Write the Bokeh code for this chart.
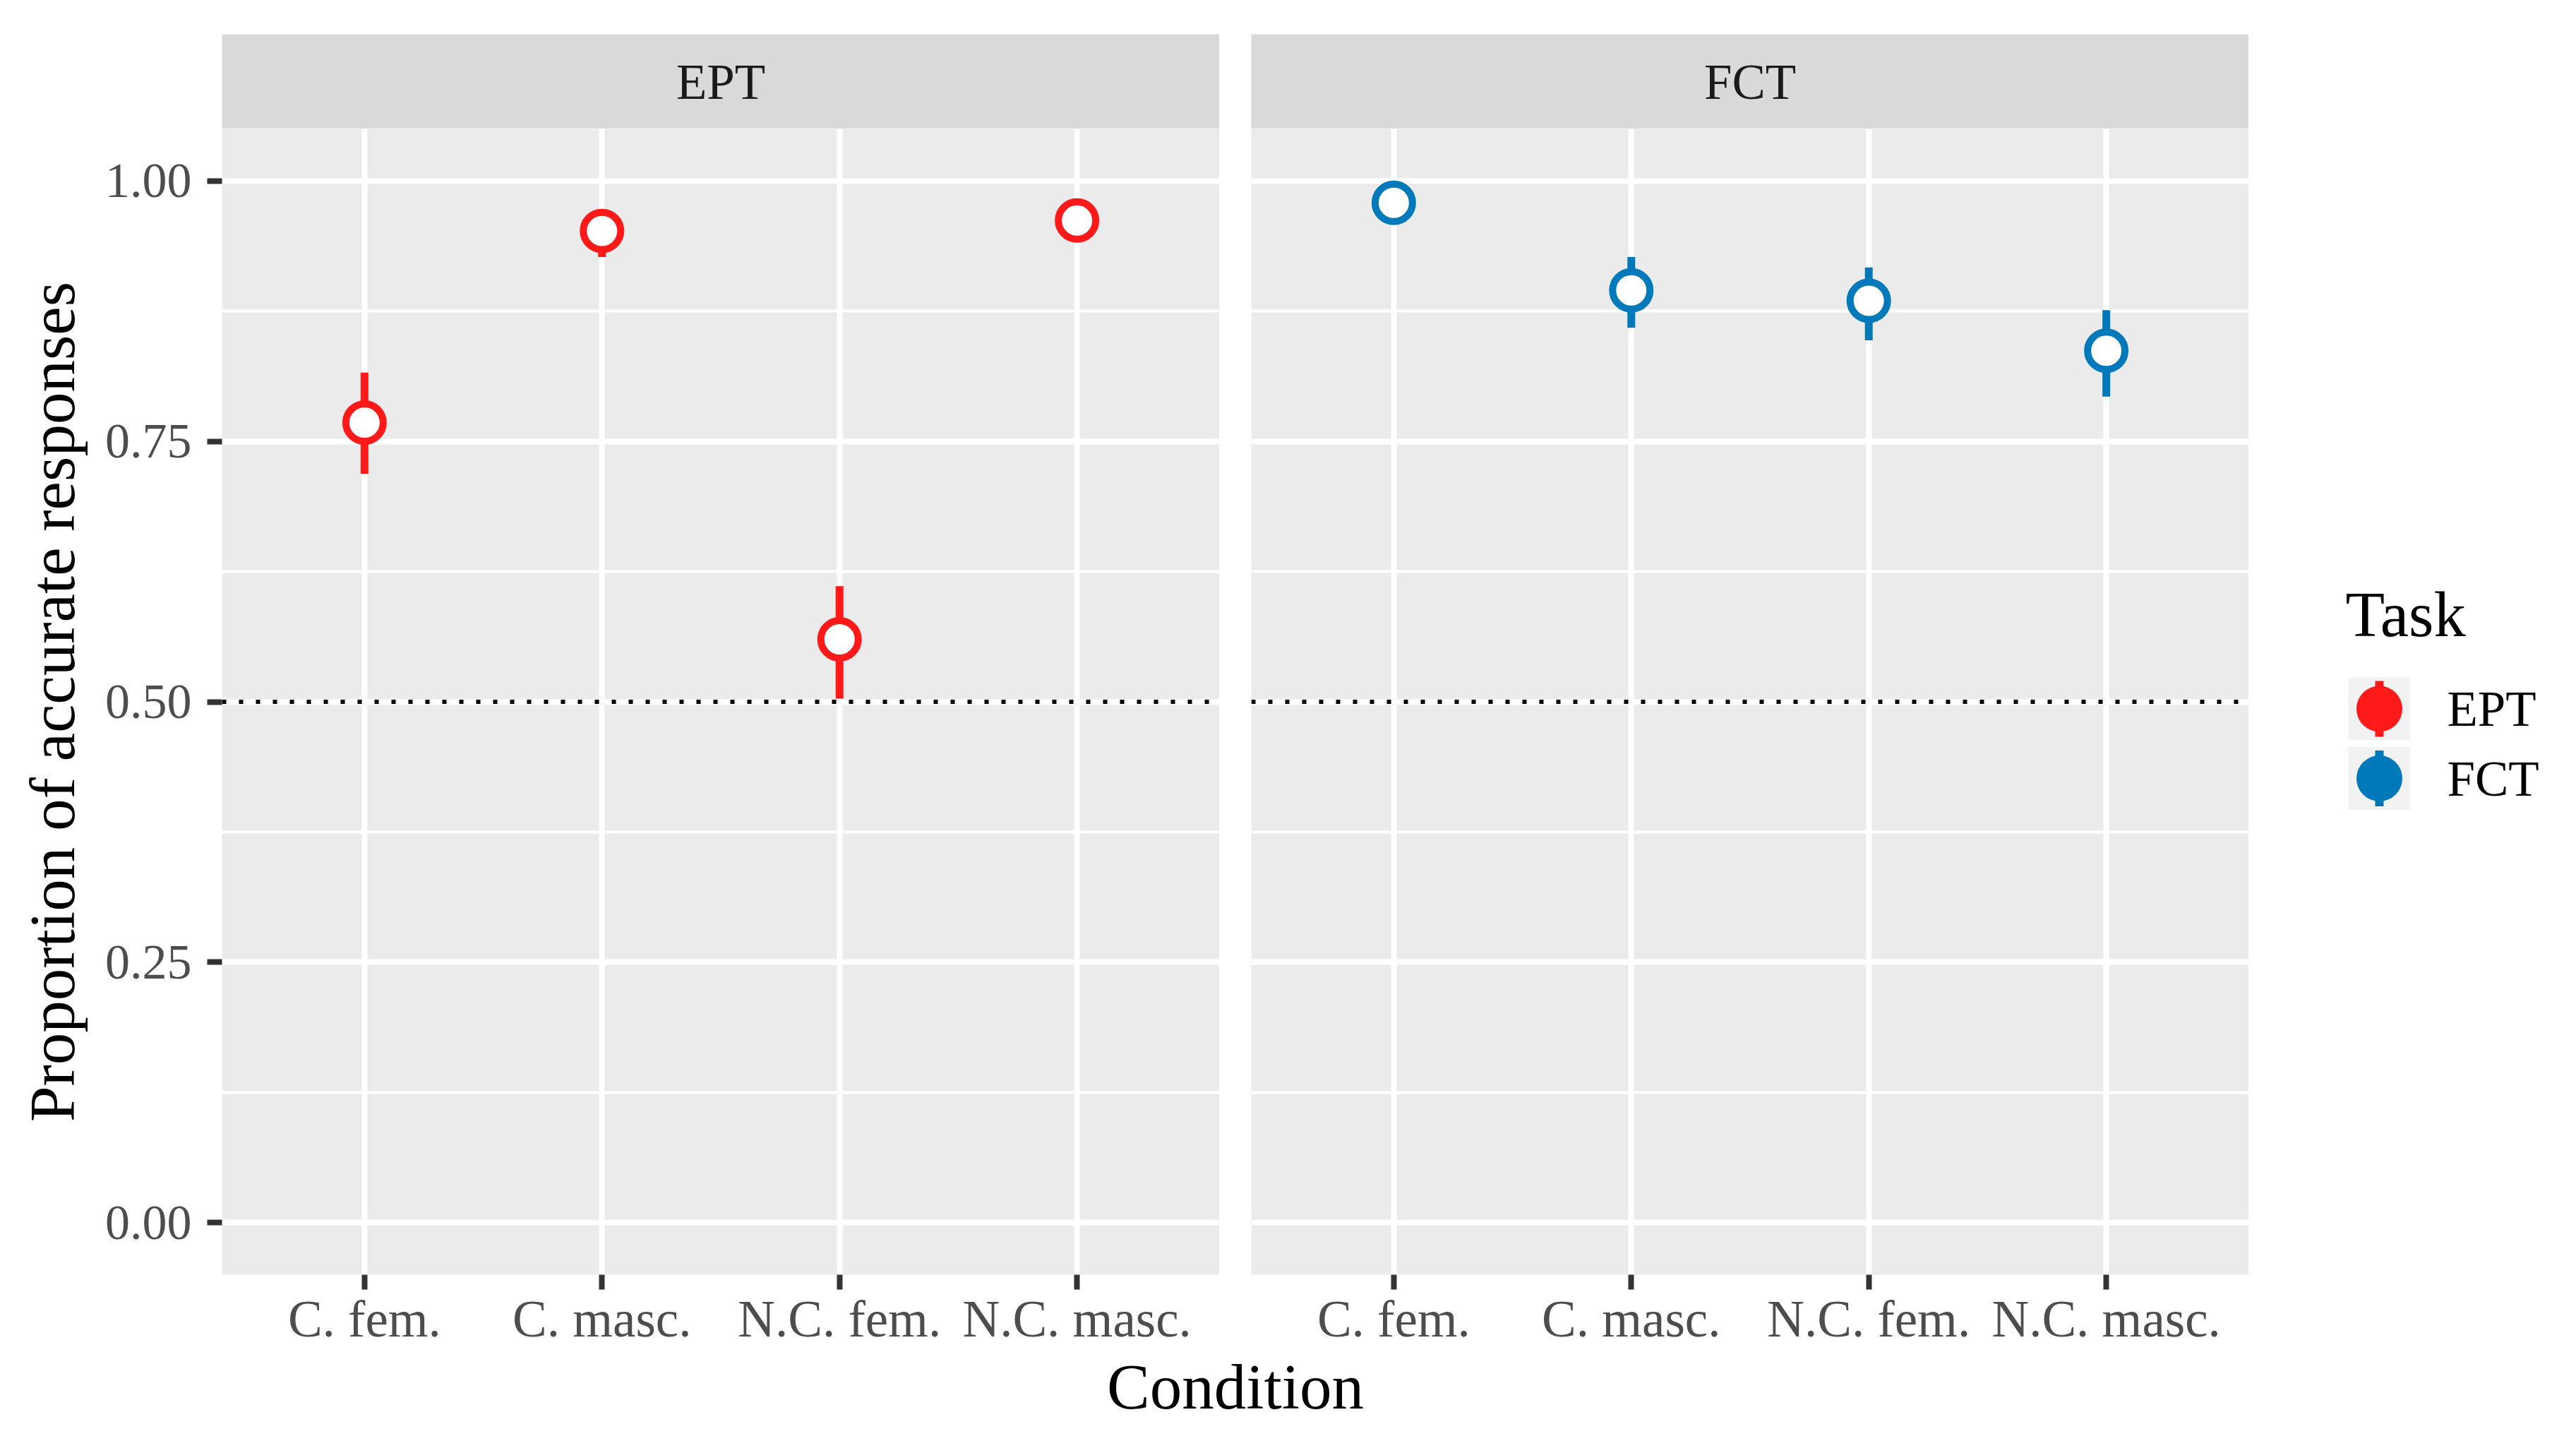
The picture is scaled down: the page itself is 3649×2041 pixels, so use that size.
from bokeh.plotting import figure
from bokeh.models import Range1d, FixedTicker, Span, Label, ColumnDataSource
from bokeh.layouts import row, column
from bokeh.embed import file_html
from bokeh.resources import INLINE
from bokeh.core.properties import value

# ---------------- data ----------------
tasks = ["EPT", "FCT"]
conditions = ["C. fem.", "C. masc.", "N.C. fem.", "N.C. masc."]
ept_mean = [0.768, 0.952, 0.560, 0.962]
ept_lo = [0.719, 0.927, 0.503, 0.945]
ept_hi = [0.816, 0.972, 0.611, 0.977]
fct_mean = [0.979, 0.895, 0.885, 0.837]
fct_lo = [0.962, 0.859, 0.847, 0.793]
fct_hi = [0.993, 0.927, 0.917, 0.876]
y_ticks = [0.0, 0.25, 0.5, 0.75, 1.0]
y_tick_labels = ["0.00", "0.25", "0.50", "0.75", "1.00"]
y_minor = [0.125, 0.375, 0.625, 0.875]
chance_level = 0.5
x_title = "Condition"
y_title = "Proportion of accurate responses"
legend_title = "Task"

# ---------------- style ----------------
FONT = "Liberation Serif"
colors = ["#FF1A1A", "#0079BA"]
PANEL_BG = "#EBEBEB"
STRIP_BG = "#D9D9D9"
KEY_BG = "#F2F2F2"
X_TXT = "73px"
Y_TXT = "70px"
TITLE_TXT = "91px"

xs = [i + 1 for i in range(len(conditions))]
series = [(ept_mean, ept_lo, ept_hi), (fct_mean, fct_lo, fct_hi)]

FRAME_W = 1413
FRAME_H = 1623
LEFT_BORDER = 314
GAP = 45
STRIP_TOP = 48
STRIP_H = 134
BOTTOM = 107
XLAB_H = 120


def make_strip(name, left):
    s = figure(frame_width=FRAME_W, frame_height=STRIP_H,
               min_border_left=left, min_border_right=0, min_border_top=STRIP_TOP,
               min_border_bottom=0, x_range=Range1d(0, 1), y_range=Range1d(0, 1),
               x_axis_location=None, y_axis_location=None,
               background_fill_color=STRIP_BG, border_fill_color="white",
               outline_line_color=None, toolbar_location=None, output_backend="svg")
    s.grid.visible = False
    s.add_layout(Label(x=0.5, y=0.5, text=name, text_align="center",
                       text_baseline="middle", text_font=FONT,
                       text_font_size="71px", text_color="#1A1A1A"))
    return s


def make_panel(idx, left, show_y):
    mean, lo, hi = series[idx]
    src = ColumnDataSource(dict(x=xs, mean=mean, lo=lo, hi=hi))
    p = figure(frame_width=FRAME_W, frame_height=FRAME_H,
               min_border_left=left, min_border_right=0, min_border_top=0,
               min_border_bottom=BOTTOM,
               x_range=Range1d(0.4, len(conditions) + 0.6),
               y_range=Range1d(-0.05, 1.05),
               y_axis_location="left" if show_y else None,
               background_fill_color=PANEL_BG, border_fill_color="white",
               outline_line_color=None, toolbar_location=None, output_backend="svg")
    xt = FixedTicker(ticks=xs, minor_ticks=[])
    yt = FixedTicker(ticks=y_ticks, minor_ticks=y_minor)
    p.xaxis.ticker = xt
    p.xgrid.ticker = xt
    p.ygrid.ticker = yt
    p.xaxis.major_label_overrides = {x: c for x, c in zip(xs, conditions)}

    p.xgrid.grid_line_color = "white"
    p.xgrid.grid_line_width = 8
    p.ygrid.grid_line_color = "white"
    p.ygrid.grid_line_width = 8
    p.ygrid.minor_grid_line_color = "white"
    p.ygrid.minor_grid_line_width = 4

    axes = [p.xaxis[0]]
    if show_y:
        p.yaxis.ticker = yt
        p.yaxis.major_label_overrides = {t: l for t, l in zip(y_ticks, y_tick_labels)}
        p.yaxis.axis_label = y_title
        p.yaxis.major_label_standoff = 22
        p.yaxis.axis_label_standoff = 21
        axes.append(p.yaxis[0])
    for ax in axes:
        ax.axis_line_color = None
        ax.major_tick_line_color = "#333333"
        ax.major_tick_line_width = 8
        ax.major_tick_out = 21
        ax.major_tick_in = 0
        ax.minor_tick_line_color = None
        ax.major_label_text_font = FONT
        ax.major_label_text_font_size = Y_TXT
        ax.major_label_text_color = "#4D4D4D"
        ax.axis_label_text_font = FONT
        ax.axis_label_text_font_size = TITLE_TXT
        ax.axis_label_text_font_style = "normal"
        ax.axis_label_text_color = "black"
    p.xaxis.major_label_text_font_size = X_TXT
    p.xaxis.major_label_standoff = 1

    p.segment(x0="x", y0="lo", x1="x", y1="hi", source=src,
              line_color=colors[idx], line_width=11)
    p.scatter(x="x", y="mean", source=src, size=53, marker="circle",
              fill_color="white", line_color=colors[idx], line_width=10)
    p.add_layout(Span(location=chance_level, dimension="width",
                      line_color="black", line_width=6, line_dash="6 18"))
    return p


s1 = make_strip(tasks[0], LEFT_BORDER)
s2 = make_strip(tasks[1], GAP)
p1 = make_panel(0, LEFT_BORDER, True)
p2 = make_panel(1, GAP, False)

# shared x-axis title, drawn as the axis label of a thin helper plot
xlab = figure(frame_width=FRAME_W * 2 + GAP, frame_height=1,
              min_border_left=LEFT_BORDER, min_border_right=0, min_border_top=0,
              min_border_bottom=0, x_range=Range1d(0, 1), y_range=Range1d(0, 1),
              y_axis_location=None,
              background_fill_color="white", border_fill_color="white",
              outline_line_color=None, toolbar_location=None, output_backend="svg")
xlab.grid.visible = False
xlab.xaxis.ticker = FixedTicker(ticks=[], minor_ticks=[])
xlab.xaxis.axis_line_color = None
xlab.xaxis.major_tick_line_color = None
xlab.xaxis.minor_tick_line_color = None
xlab.xaxis.major_label_text_font_size = "0px"
xlab.xaxis.major_label_standoff = 0
xlab.xaxis.major_tick_out = 0
xlab.xaxis.axis_label = x_title
xlab.xaxis.axis_label_standoff = 0
xlab.xaxis.axis_label_text_font = FONT
xlab.xaxis.axis_label_text_font_size = TITLE_TXT
xlab.xaxis.axis_label_text_font_style = "normal"
xlab.xaxis.axis_label_text_color = "black"

# ---------------- legend ----------------
LEG_W = 456
total_h = STRIP_TOP + STRIP_H + FRAME_H + BOTTOM + XLAB_H
leg = figure(frame_width=LEG_W, frame_height=total_h, x_range=Range1d(0, LEG_W),
             y_range=Range1d(total_h, 0), x_axis_location=None, y_axis_location=None,
             min_border=0, background_fill_color="white", border_fill_color="white",
             outline_line_color=None, toolbar_location=None, output_backend="svg")
leg.grid.visible = False
key_x = 185
key_y0 = 1003.5
key_step = 98.5
key_ys = [key_y0 + i * key_step for i in range(len(tasks))]
leg.text(x=[137], y=[870], text=[legend_title], text_align="left",
         text_baseline="middle", text_font=value(FONT),
         text_font_size=TITLE_TXT, text_color="black")
leg.rect(x=[key_x] * len(tasks), y=key_ys, width=88, height=89,
         fill_color=KEY_BG, line_color=None)
leg.segment(x0=[key_x] * len(tasks), y0=[y - 39.5 for y in key_ys],
            x1=[key_x] * len(tasks), y1=[y + 39.5 for y in key_ys],
            line_color=colors, line_width=12)
leg.scatter(x=[key_x] * len(tasks), y=key_ys, size=65, marker="circle",
            fill_color=colors, line_color=None)
leg.text(x=[281] * len(tasks), y=[y for y in key_ys], text=tasks,
         text_align="left", text_baseline="middle", text_font=value(FONT),
         text_font_size="71px", text_color="black")

layout = row(column(row(s1, s2), row(p1, p2), xlab), leg)

open("out.html", "w").write(file_html(layout, INLINE))
